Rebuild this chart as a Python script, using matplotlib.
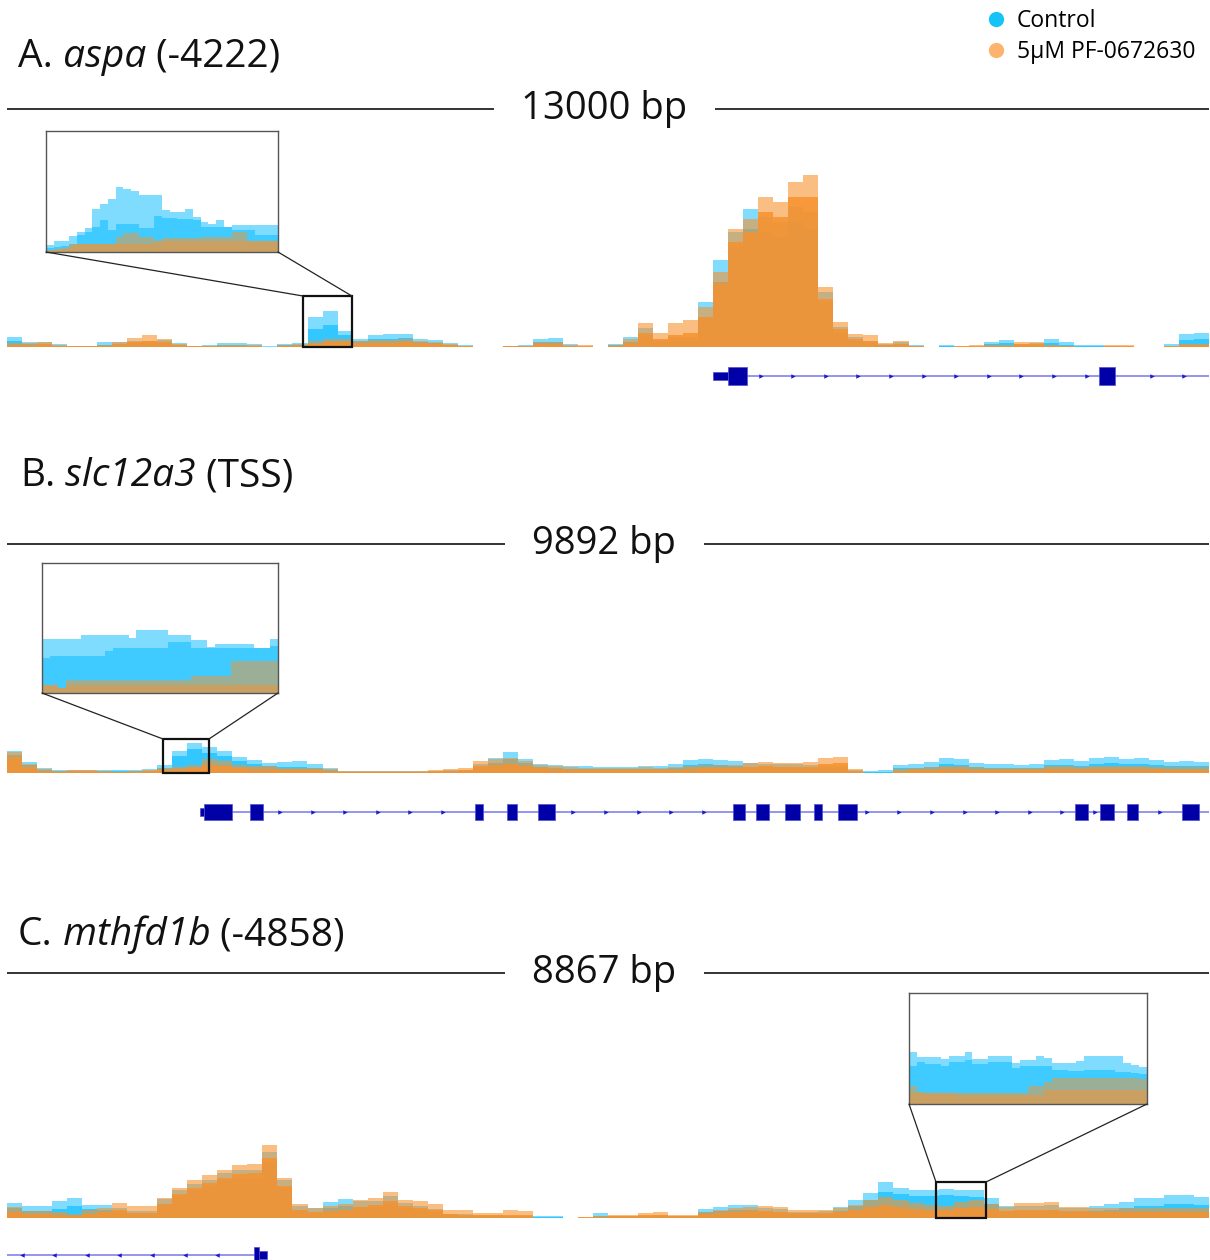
import numpy as np
import matplotlib
matplotlib.use("Agg")
import matplotlib.pyplot as plt
from matplotlib.patches import Rectangle, ConnectionPatch
from matplotlib.lines import Line2D
from matplotlib.offsetbox import TextArea, HPacker, AnnotationBbox

plt.rcParams['font.family'] = ['Open Sans', 'DejaVu Sans']

# ---------------------------------------------------------------- data
# Coverage tracks, 80 equal bins across each locus; two replicates per condition.
ctrl_hi_A = [10, 5, 5, 3, 1, 1, 5, 5, 6, 6, 7, 4, 1, 2, 4, 4, 3, 1, 3, 4,
             30, 36, 16, 8, 12, 13, 13, 8, 7, 4, 2, 0, 0, 1, 2, 8, 9, 3, 0, 0,
             3, 10, 19, 7, 10, 10, 45, 87, 115, 138, 130, 125, 140, 135, 55, 20, 10, 6, 3, 5,
             2, 0, 2, 0, 0, 5, 7, 3, 4, 8, 5, 2, 2, 1, 0, 0, 0, 3, 13, 14]
ctrl_lo_A = [6, 3, 3, 1, 1, 1, 2, 3, 4, 4, 4, 2, 1, 1, 2, 2, 1, 0, 2, 2,
             18, 22, 12, 6, 8, 8, 9, 5, 4, 2, 1, 0, 0, 1, 1, 5, 5, 1, 0, 0,
             2, 5, 12, 5, 6, 6, 30, 65, 100, 118, 115, 110, 125, 118, 45, 14, 6, 4, 2, 3,
             1, 0, 1, 0, 0, 3, 4, 2, 2, 4, 2, 1, 1, 0, 0, 0, 0, 1, 7, 8]
trt_hi_A = [4, 4, 5, 2, 1, 1, 2, 5, 9, 12, 8, 3, 1, 1, 2, 2, 2, 0, 2, 3,
            6, 8, 8, 6, 7, 7, 8, 6, 5, 3, 1, 0, 0, 1, 1, 5, 5, 2, 2, 0,
            2, 8, 24, 14, 24, 27, 40, 75, 118, 128, 150, 145, 165, 172, 60, 25, 13, 12, 4, 6,
            1, 0, 0, 1, 2, 2, 2, 5, 5, 2, 1, 0, 0, 2, 2, 0, 0, 1, 3, 3]
trt_lo_A = [2, 2, 3, 1, 1, 1, 1, 3, 5, 6, 5, 2, 1, 1, 1, 1, 1, 0, 1, 1,
            3, 5, 5, 4, 4, 4, 5, 4, 3, 2, 1, 0, 0, 1, 1, 3, 3, 1, 1, 0,
            1, 4, 14, 8, 12, 14, 30, 64, 105, 115, 135, 130, 150, 150, 48, 18, 8, 6, 2, 3,
            1, 0, 0, 1, 1, 1, 1, 3, 3, 1, 1, 0, 0, 1, 1, 0, 0, 1, 2, 2]

ctrl_hi_B = [22, 11, 5, 3, 3, 3, 3, 3, 3, 4, 8, 22, 30, 26, 22, 16, 13, 10, 11, 12,
             9, 5, 2, 2, 2, 2, 2, 2, 2, 3, 3, 9, 15, 21, 14, 9, 8, 7, 7, 6,
             6, 6, 7, 7, 9, 13, 14, 13, 12, 10, 9, 9, 9, 8, 7, 7, 3, 2, 3, 8,
             9, 11, 15, 14, 10, 9, 9, 8, 9, 13, 14, 12, 15, 16, 14, 15, 13, 11, 12, 11]
ctrl_lo_B = [18, 8, 3, 2, 2, 2, 2, 2, 2, 2, 5, 17, 24, 20, 17, 12, 9, 7, 6, 6,
             5, 3, 1, 1, 1, 1, 1, 1, 1, 2, 2, 6, 10, 14, 10, 6, 5, 4, 4, 4,
             4, 4, 4, 4, 5, 8, 9, 8, 7, 6, 6, 6, 5, 5, 4, 4, 1, 1, 1, 5,
             5, 6, 9, 8, 6, 5, 5, 5, 5, 8, 8, 7, 9, 10, 9, 9, 8, 7, 7, 7]
trt_hi_B = [21, 9, 4, 2, 3, 3, 2, 1, 2, 3, 5, 6, 8, 14, 12, 8, 7, 7, 5, 5,
            5, 4, 2, 2, 2, 2, 2, 2, 3, 4, 5, 12, 14, 15, 12, 8, 7, 6, 5, 5,
            5, 5, 6, 5, 6, 7, 8, 8, 8, 10, 11, 10, 10, 11, 15, 16, 4, 0, 0, 4,
            5, 6, 7, 7, 6, 5, 5, 5, 5, 7, 7, 6, 7, 7, 7, 7, 6, 6, 6, 6]
trt_lo_B = [16, 6, 2, 1, 2, 2, 1, 1, 1, 2, 3, 4, 5, 8, 7, 5, 4, 4, 3, 3,
            3, 2, 1, 1, 1, 1, 1, 1, 2, 2, 3, 7, 8, 9, 7, 5, 4, 3, 3, 3,
            3, 3, 3, 3, 3, 4, 5, 5, 5, 6, 7, 6, 6, 6, 9, 10, 2, 0, 0, 2,
            3, 3, 4, 4, 3, 3, 3, 3, 3, 4, 4, 4, 4, 4, 4, 4, 4, 3, 3, 3]

ctrl_hi_C = [15, 12, 12, 17, 20, 13, 13, 10, 7, 7, 19, 28, 34, 38, 45, 48, 48, 66, 38, 12,
             10, 16, 19, 17, 17, 22, 15, 12, 9, 4, 4, 3, 3, 2, 2, 2, 2, 0, 0, 5,
             2, 2, 2, 3, 2, 2, 9, 11, 13, 13, 10, 9, 6, 6, 7, 11, 18, 25, 36, 30,
             28, 28, 29, 28, 28, 20, 12, 12, 12, 13, 10, 10, 12, 14, 16, 20, 20, 23, 23, 21]
ctrl_lo_C = [10, 7, 7, 9, 12, 9, 8, 6, 4, 4, 14, 22, 28, 32, 38, 40, 40, 55, 30, 8,
             6, 10, 12, 11, 11, 15, 10, 8, 6, 3, 2, 2, 2, 1, 1, 1, 1, 0, 0, 2,
             1, 1, 1, 2, 1, 1, 6, 7, 8, 8, 6, 5, 4, 4, 4, 7, 12, 18, 26, 24,
             22, 22, 23, 22, 21, 14, 7, 7, 7, 8, 6, 6, 7, 8, 10, 12, 12, 14, 14, 13]
trt_hi_C = [11, 7, 7, 6, 4, 8, 10, 15, 12, 12, 20, 30, 38, 43, 48, 53, 54, 73, 40, 14,
            10, 12, 14, 18, 20, 26, 18, 17, 14, 8, 8, 5, 5, 8, 7, 0, 0, 0, 1, 2,
            3, 3, 5, 6, 3, 3, 6, 8, 10, 11, 12, 11, 8, 8, 8, 10, 13, 18, 21, 18,
            15, 13, 12, 16, 18, 14, 11, 15, 15, 16, 11, 11, 10, 10, 10, 10, 10, 10, 10, 10]
trt_lo_C = [6, 4, 4, 3, 2, 4, 6, 8, 5, 5, 14, 24, 30, 35, 40, 44, 45, 60, 32, 8,
            6, 7, 8, 11, 13, 17, 12, 10, 8, 4, 3, 3, 3, 3, 3, 0, 0, 0, 1, 1,
            2, 2, 3, 3, 2, 2, 4, 5, 6, 7, 7, 6, 5, 5, 5, 6, 8, 11, 13, 11,
            9, 8, 8, 10, 11, 9, 7, 8, 8, 8, 7, 7, 6, 6, 6, 6, 6, 6, 6, 6]

# Magnified windows (30 equal bins over the zoomed interval)
zoom_A = (3200, 3730)
inset_ctrl_hi_A = [7, 11, 11, 16, 20, 24, 43, 48, 53, 65, 63, 61, 57, 57, 57,
                   42, 40, 40, 43, 35, 30, 28, 32, 25, 27, 27, 27, 27, 27, 27]
inset_ctrl_lo_A = [4, 5, 6, 8, 17, 20, 25, 32, 22, 28, 28, 28, 24, 24, 36,
                   34, 34, 33, 33, 32, 25, 25, 25, 25, 22, 22, 22, 17, 17, 17]
inset_trt_hi_A = [2, 3, 4, 8, 8, 8, 8, 8, 8, 15, 19, 19, 15, 15, 11,
                  14, 14, 14, 14, 14, 15, 15, 15, 15, 20, 20, 11, 11, 11, 11]
inset_trt_lo_A = [1, 2, 3, 6, 8, 8, 8, 8, 8, 8, 8, 8, 8, 8, 11,
                  11, 11, 11, 11, 11, 11, 11, 11, 11, 11, 11, 11, 11, 11, 11]

zoom_B = (1284, 1662)
inset_ctrl_hi_B = [54, 54, 54, 54, 54, 58, 58, 58, 58, 58, 58, 55, 63, 63, 63,
                   63, 58, 58, 58, 53, 53, 46, 49, 49, 49, 49, 49, 45, 45, 54]
inset_ctrl_lo_B = [35, 37, 37, 37, 37, 37, 37, 37, 42, 45, 45, 45, 45, 45, 45,
                   45, 51, 51, 51, 45, 45, 45, 45, 45, 45, 45, 45, 45, 45, 47]
inset_trt_hi_B = [8, 8, 5, 13, 13, 13, 13, 13, 13, 13, 13, 13, 13, 13, 13,
                  13, 13, 13, 13, 17, 17, 17, 17, 17, 32, 32, 32, 32, 32, 32]
inset_trt_lo_B = [8, 8, 5, 8, 8, 8, 8, 8, 8, 8, 8, 8, 8, 8, 8,
                  8, 8, 8, 8, 8, 8, 8, 8, 8, 8, 8, 8, 8, 8, 8]

zoom_C = (6853, 7222)
inset_ctrl_hi_C = [52, 47, 47, 47, 45, 48, 48, 52, 45, 45, 48, 48, 48, 41, 44,
                   44, 48, 46, 41, 41, 41, 43, 48, 48, 48, 48, 48, 41, 39, 37]
inset_ctrl_lo_C = [38, 42, 40, 40, 38, 42, 42, 44, 40, 40, 42, 42, 42, 36, 38,
                   38, 38, 38, 34, 34, 33, 33, 34, 34, 34, 34, 32, 32, 31, 30]
inset_trt_hi_C = [18, 12, 11, 11, 11, 11, 11, 11, 11, 11, 11, 11, 11, 11, 11,
                  18, 18, 22, 26, 26, 26, 26, 26, 26, 26, 26, 26, 26, 26, 25]
inset_trt_lo_C = [11, 11, 11, 11, 11, 11, 9, 9, 9, 9, 9, 9, 9, 9, 9,
                  9, 9, 14, 14, 14, 14, 14, 14, 14, 14, 14, 14, 14, 14, 14]

# Locus sizes (bp) and gene models (bp from the left edge of each locus)
spans = [13000, 9892, 8867]
gene_A = dict(start=7640, end=13000, strand='+',
              utrs=[(7640, 7800)],
              exons=[(7800, 8000), (11810, 11980)])
gene_B = dict(start=1590, end=9892, strand='+',
              utrs=[(1590, 1620)],
              exons=[(1620, 1852), (2000, 2107), (3852, 3918), (4115, 4197), (4370, 4510),
                     (5975, 6074), (6164, 6271), (6403, 6527), (6642, 6707), (6839, 6996),
                     (8790, 8897), (8995, 9111), (9218, 9308), (9670, 9810)])
gene_C = dict(start=0, end=1920, strand='-',
              utrs=[(1860, 1920)],
              exons=[(1820, 1860)])

titles = [[("A.", "normal"), (" aspa", "italic"), (" (-4222)", "normal")],
          [("B.", "normal"), (" slc12a3", "italic"), (" (TSS)", "normal")],
          [("C.", "normal"), (" mthfd1b", "italic"), (" (-4858)", "normal")]]
legend_labels = ["Control", "5\u03bcM PF-0672630"]

# ---------------------------------------------------------------- style / layout
W, H = 1210, 1260
X0, X1 = 7, 1209
CYAN = '#00BBFF'
ORANGE = '#F7922F'
EXON = '#0000A6'
INTRON = '#8C8CEA'
TITLE_FS = 28
RULER_FS = 27.5

layout = [
    dict(title_xy=(18, 57), ruler_y=109, base_y=347, track_h=185, gene_y=376,
         inset=(46, 131, 278, 252), box_h=51, exon_half=9),
    dict(title_xy=(20, 476), ruler_y=544, base_y=773, track_h=45, gene_y=812,
         inset=(42, 563, 278, 693), box_h=34, exon_half=8),
    dict(title_xy=(18, 935), ruler_y=973, base_y=1218, track_h=85, gene_y=1255,
         inset=(909, 993, 1147, 1104), box_h=36, exon_half=8),
]
tracks = [(ctrl_hi_A, ctrl_lo_A, trt_hi_A, trt_lo_A),
          (ctrl_hi_B, ctrl_lo_B, trt_hi_B, trt_lo_B),
          (ctrl_hi_C, ctrl_lo_C, trt_hi_C, trt_lo_C)]
insets = [(zoom_A, inset_ctrl_hi_A, inset_ctrl_lo_A, inset_trt_hi_A, inset_trt_lo_A),
          (zoom_B, inset_ctrl_hi_B, inset_ctrl_lo_B, inset_trt_hi_B, inset_trt_lo_B),
          (zoom_C, inset_ctrl_hi_C, inset_ctrl_lo_C, inset_trt_hi_C, inset_trt_lo_C)]
genes = [gene_A, gene_B, gene_C]

fig = plt.figure(figsize=(W / 100, H / 100), dpi=100)
fig.patch.set_facecolor('white')


def fig_rect(x0, y0, x1, y1):
    """Pixel box (origin top-left) -> figure-fraction rectangle."""
    return [x0 / W, 1 - y1 / H, (x1 - x0) / W, (y1 - y0) / H]


COLORS4 = [CYAN, CYAN, ORANGE, ORANGE]


def coverage_steps(ax, edges, series, alphas):
    for vals, color, a in zip(series, COLORS4, alphas):
        ax.stairs(np.asarray(vals, float), edges, fill=True, baseline=0,
                  color=color, alpha=a, linewidth=0)


def draw_title(x, y, parts):
    areas = [TextArea(t, textprops=dict(fontsize=TITLE_FS, fontstyle=st, color='#111111'))
             for t, st in parts]
    box = HPacker(children=areas, align='baseline', pad=0, sep=0)
    ab = AnnotationBbox(box, (x, H - y), xycoords='figure pixels',
                        box_alignment=(0, 0.5), frameon=False, pad=0)
    fig.add_artist(ab)


for span, lay, trk, ins, gene, title in zip(spans, layout, tracks, insets, genes, titles):
    draw_title(*lay['title_xy'], title)

    # scale ruler with locus size
    ry = lay['ruler_y']
    axr = fig.add_axes(fig_rect(X0, ry - 15, X1, ry + 15))
    axr.set_xlim(0, span)
    axr.set_ylim(-15, 15)
    axr.axis('off')
    axr.plot([0, span], [0, 0], color='#111111', lw=1.2, solid_capstyle='butt')
    axr.text(span * 0.497, 0, f"{span} bp", ha='center', va='center', fontsize=RULER_FS,
             color='#111111',
             bbox=dict(boxstyle='square,pad=0.72', fc='white', ec='none'))

    # coverage track
    by, th = lay['base_y'], lay['track_h']
    axt = fig.add_axes(fig_rect(X0, by - th, X1, by))
    axt.set_xlim(0, span)
    axt.set_ylim(0, th)
    axt.axis('off')
    axt.patch.set_alpha(0)
    edges = np.linspace(0, span, len(trk[0]) + 1)
    coverage_steps(axt, edges, trk, [0.5, 0.6, 0.6, 0.85])

    # magnified window
    (z0, z1), *iser = ins
    axt.add_patch(Rectangle((z0, 0), z1 - z0, lay['box_h'], fill=False,
                            edgecolor='#111111', lw=1.6, clip_on=False, zorder=5))
    ix0, iy0, ix1, iy1 = lay['inset']
    axi = fig.add_axes(fig_rect(ix0, iy0, ix1, iy1))
    axi.set_facecolor('white')
    axi.set_xlim(z0, z1)
    axi.set_ylim(0, iy1 - iy0)
    axi.set_xticks([])
    axi.set_yticks([])
    for sp in axi.spines.values():
        sp.set_edgecolor('#555555')
        sp.set_linewidth(1.0)
    iedges = np.linspace(z0, z1, len(iser[0]) + 1)
    coverage_steps(axi, iedges, iser, [0.5, 0.5, 0.5, 0.5])
    for fx, zx in ((0, z0), (1, z1)):
        con = ConnectionPatch(xyA=(fx, 0), coordsA=axi.transAxes,
                              xyB=(zx, lay['box_h']), coordsB=axt.transData,
                              color='#222222', lw=0.9)
        fig.add_artist(con)

    # gene model
    gy = lay['gene_y']
    axg = fig.add_axes(fig_rect(X0, gy - 15, X1, gy + 15))
    axg.set_xlim(0, span)
    axg.set_ylim(15, -15)
    axg.axis('off')
    axg.patch.set_alpha(0)
    axg.plot([gene['start'], gene['end']], [0, 0], color=INTRON, lw=1.3,
             solid_capstyle='butt', zorder=1)
    eh = lay['exon_half']
    blocks = [(s, e, eh) for s, e in gene['exons']] + [(s, e, eh * 0.45) for s, e in gene['utrs']]
    for s, e, hh in blocks:
        axg.add_patch(Rectangle((s, -hh), e - s, 2 * hh, facecolor=EXON,
                                edgecolor='#5050D0', lw=0.5, zorder=3))
    step = 32.6 * span / (X1 - X0)
    occupied = [(s, e) for s, e, _ in blocks]
    pos = np.arange(gene['start'] + step * 0.45, gene['end'], step)
    pos = [p for p in pos if all(not (s - step * 0.15 < p < e + step * 0.15) for s, e in occupied)]
    axg.plot(pos, np.zeros(len(pos)), ls='none',
             marker='>' if gene['strand'] == '+' else '<',
             markersize=3.2, color='#1A1AD0', markeredgewidth=0, zorder=2)

# legend
handles = [Line2D([], [], ls='none', marker='o', markersize=11, markeredgewidth=0,
                  color=c) for c in ('#15C3F7', '#FDB36E')]
fig.legend(handles, legend_labels, loc='upper left',
           bbox_to_anchor=(985 / W, 1 - 9 / H), frameon=False, fontsize=16.5,
           handlelength=1.0, handletextpad=0.4, labelspacing=0.31,
           borderpad=0, borderaxespad=0)

fig.savefig('out.png', dpi=100, facecolor='white')
